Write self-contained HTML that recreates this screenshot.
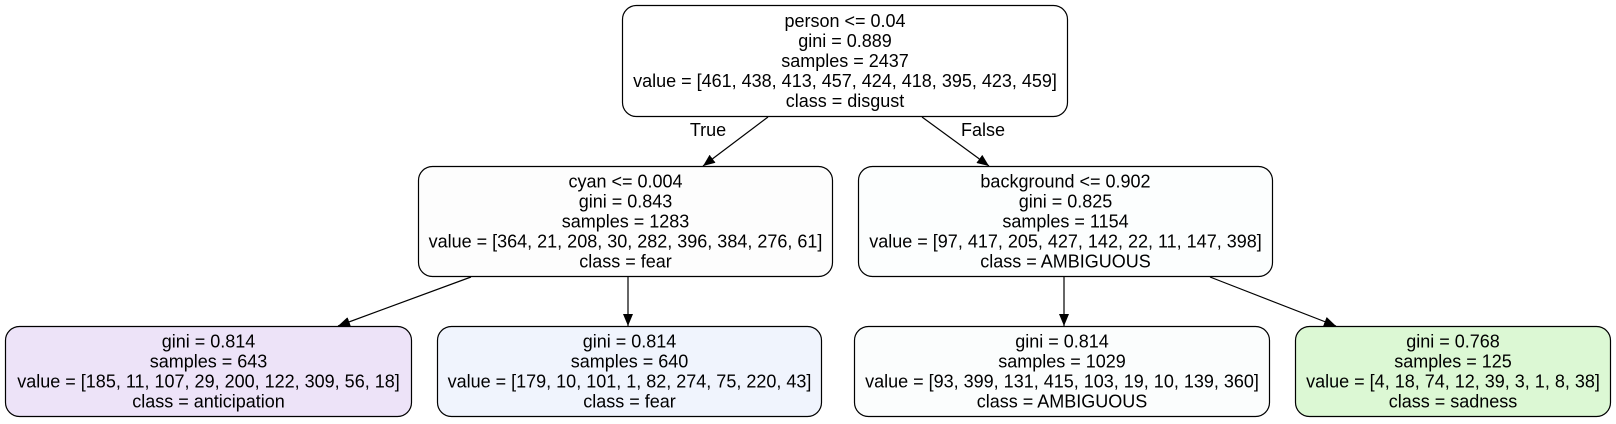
<!DOCTYPE html>
<html><head><meta charset="utf-8"><style>
html,body{margin:0;padding:0;background:#fff;}
svg text{font-family:"Liberation Sans",sans-serif;font-size:18px;fill:#000;}
</style></head><body>
<svg id="tree" width="1616" height="419" viewBox="0 0 1616 419" xmlns="http://www.w3.org/2000/svg">
<defs><marker id="ah" viewBox="0 0 12 10" refX="12" refY="5" markerWidth="12" markerHeight="10" markerUnits="userSpaceOnUse" orient="auto"><path d="M0,0 L12,5 L0,10 z" fill="#000"/></marker></defs>
</svg>
<script>
const nodeNames=['root-node','cyan-split-node','background-split-node','anticipation-leaf','fear-leaf','ambiguous-leaf','sadness-leaf'];
const nodeLines=[
 ['person <= 0.04','gini = 0.889','samples = 2437','value = [461, 438, 413, 457, 424, 418, 395, 423, 459]','class = disgust'],
 ['cyan <= 0.004','gini = 0.843','samples = 1283','value = [364, 21, 208, 30, 282, 396, 384, 276, 61]','class = fear'],
 ['background <= 0.902','gini = 0.825','samples = 1154','value = [97, 417, 205, 427, 142, 22, 11, 147, 398]','class = AMBIGUOUS'],
 ['gini = 0.814','samples = 643','value = [185, 11, 107, 29, 200, 122, 309, 56, 18]','class = anticipation'],
 ['gini = 0.814','samples = 640','value = [179, 10, 101, 1, 82, 274, 75, 220, 43]','class = fear'],
 ['gini = 0.814','samples = 1029','value = [93, 399, 131, 415, 103, 19, 10, 139, 360]','class = AMBIGUOUS'],
 ['gini = 0.768','samples = 125','value = [4, 18, 74, 12, 39, 3, 1, 8, 38]','class = sadness']
];
const nodeFill=['#ffffff','#fdfdfd','#fcfefe','#ede3f8','#f0f4fd','#fbfdfd','#dcf8d4'];
const boxes=[[622,5,1068,117],[418,166,833,277],[858,166,1273,277],[5,326,412,417],[437,326,822,417],[854,326,1270,417],[1295,326,1611,417]];
const edges=[[768,117,703,166,0,1],[922,117,989,166,0,2],[471,277,338,326,1,3],[628,277,628,326,1,4],[1064,277,1064,326,2,5],[1210,277,1336,326,2,6]];
const svg=document.getElementById('tree');
const NS='http://www.w3.org/2000/svg';
edges.forEach((e,i)=>{
 const l=document.createElementNS(NS,'line');
 l.setAttribute('x1',e[0]);l.setAttribute('y1',e[1]);l.setAttribute('x2',e[2]);l.setAttribute('y2',e[3]);
 l.setAttribute('stroke','#000');l.setAttribute('stroke-width','1.2');l.setAttribute('marker-end','url(#ah)');
 
 
 svg.appendChild(l);
});
boxes.forEach((b,i)=>{
 const g=document.createElementNS(NS,'g');
 
 
 const r=document.createElementNS(NS,'rect');
 r.setAttribute('x',b[0]+0.5);r.setAttribute('y',b[1]+0.5);r.setAttribute('width',b[2]-b[0]-1);r.setAttribute('height',b[3]-b[1]-1);
 r.setAttribute('rx',14);r.setAttribute('fill',nodeFill[i]);r.setAttribute('stroke','#000');r.setAttribute('stroke-width','1.2');
 g.appendChild(r);
 const lines=nodeLines[i];
 const cx=(b[0]+b[2])/2, cy=(b[1]+b[3])/2;
 lines.forEach((t,k)=>{
  const tx=document.createElementNS(NS,'text');
  tx.setAttribute('x',cx);tx.setAttribute('y',cy+(k-(lines.length-1)/2)*20+6);
  tx.setAttribute('text-anchor','middle');
  tx.textContent=t;
  
  
  g.appendChild(tx);
 });
 svg.appendChild(g);
});
const labels=[['True',708,130],['False',983,130]];
labels.forEach(L=>{
 const t=document.createElementNS(NS,'text');
 t.setAttribute('x',L[1]);t.setAttribute('y',L[2]+6);t.setAttribute('text-anchor','middle');t.textContent=L[0];
 
 
 svg.appendChild(t);
});
</script>
</body></html>
